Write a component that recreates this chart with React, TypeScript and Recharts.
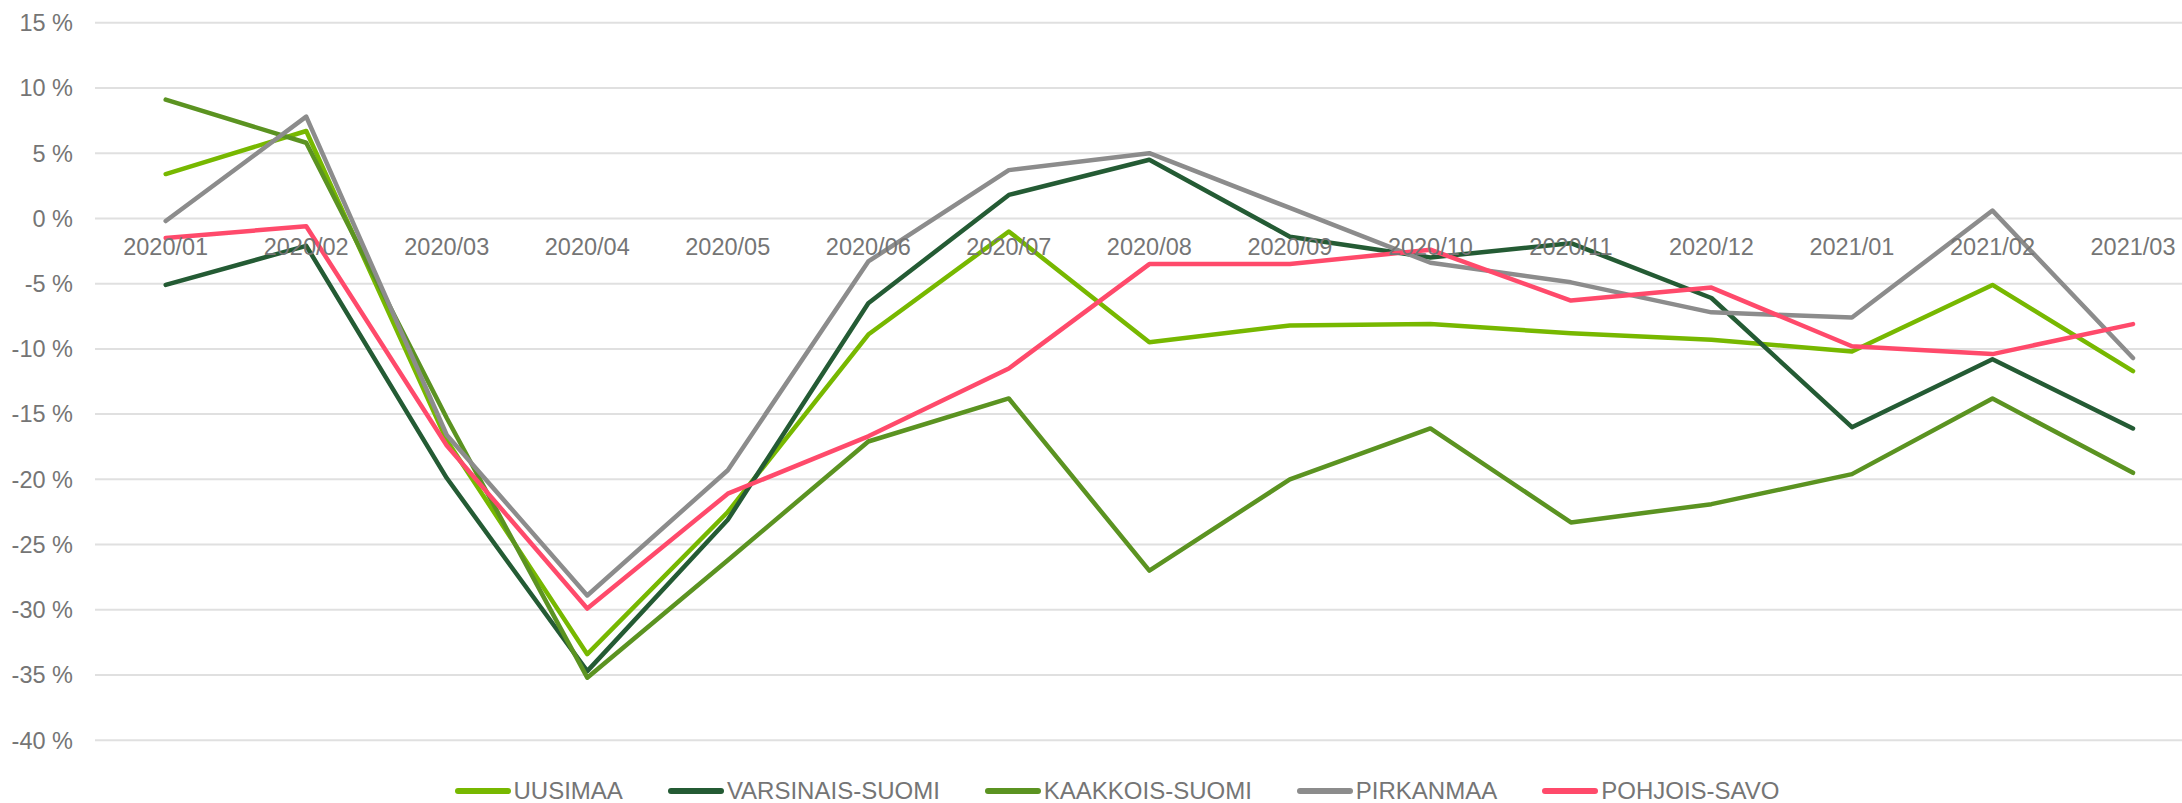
import React from 'react';
import { LineChart, Line, XAxis, YAxis, CartesianGrid, Legend } from 'recharts';

const months = [
  '2020/01', '2020/02', '2020/03', '2020/04', '2020/05', '2020/06', '2020/07', '2020/08',
  '2020/09', '2020/10', '2020/11', '2020/12', '2021/01', '2021/02', '2021/03',
];

const uusimaa = [3.4, 6.7, -17.0, -33.4, -22.5, -8.9, -1.0, -9.5, -8.2, -8.1, -8.8, -9.3, -10.2, -5.1, -11.7];
const varsinaisSuomi = [-5.1, -2.1, -19.9, -34.7, -23.1, -6.5, 1.8, 4.5, -1.4, -3.0, -1.9, -6.1, -16.0, -10.8, -16.1];
const kaakkoisSuomi = [9.1, 5.8, -15.3, -35.2, -26.2, -17.1, -13.8, -27.0, -20.0, -16.1, -23.3, -21.9, -19.6, -13.8, -19.5];
const pirkanmaa = [-0.2, 7.8, -16.6, -28.9, -19.3, -3.3, 3.7, 5.0, 0.8, -3.4, -4.9, -7.2, -7.6, 0.6, -10.7];
const pohjoisSavo = [-1.5, -0.6, -17.4, -29.9, -21.1, -16.7, -11.5, -3.5, -3.5, -2.4, -6.3, -5.3, -9.8, -10.4, -8.1];

const yTicks = [15, 10, 5, 0, -5, -10, -15, -20, -25, -30, -35, -40];

const series = [
  { key: 'uusimaa', name: 'UUSIMAA', color: '#77b800', values: uusimaa },
  { key: 'varsinais', name: 'VARSINAIS-SUOMI', color: '#245b34', values: varsinaisSuomi },
  { key: 'kaakkois', name: 'KAAKKOIS-SUOMI', color: '#5b9321', values: kaakkoisSuomi },
  { key: 'pirkanmaa', name: 'PIRKANMAA', color: '#8c8c8c', values: pirkanmaa },
  { key: 'pohjois', name: 'POHJOIS-SAVO', color: '#ff4a6b', values: pohjoisSavo },
];

const data = months.map((month, i) => {
  const row: Record<string, string | number> = { month };
  series.forEach((s) => {
    row[s.key] = s.values[i];
  });
  return row;
});

const WIDTH = 2182;
const HEIGHT = 803;
const PLOT_TOP = 22.7;
const PLOT_BOTTOM = 740.3;
const X_AXIS_HEIGHT = 1;
const Y_MAX = 15;
const Y_MIN = -40;
const FONT = '"Liberation Sans", Arial, sans-serif';
const TEXT = '#757575';

// category labels sit just under the 0 % line, like Excel's axis crossing
const zeroY = PLOT_TOP + ((Y_MAX - 0) / (Y_MAX - Y_MIN)) * (PLOT_BOTTOM - PLOT_TOP);

const MonthTick = (props: any) => (
  <text
    x={props.x}
    y={zeroY + 28}
    dy="0.355em"
    textAnchor="middle"
    fill={TEXT}
    fontSize={23.5}
    fontFamily={FONT}
  >
    {props.payload.value}
  </text>
);

const LegendContent = () => (
  <div
    style={{
      display: 'flex',
      justifyContent: 'center',
      alignItems: 'center',
      gap: 45,
      fontFamily: FONT,
      fontSize: 24,
      lineHeight: '28px',
      color: TEXT,
    }}
  >
    {series.map((s) => (
      <div key={s.key} style={{ display: 'flex', alignItems: 'center' }}>
        <span
          style={{
            display: 'inline-block',
            width: 56,
            height: 6,
            borderRadius: 3,
            background: s.color,
            marginRight: 3,
          }}
        />
        <span>{s.name}</span>
      </div>
    ))}
  </div>
);

export default function App() {
  return (
    <div style={{ position: 'absolute', left: 0, top: 0 }}>
      <LineChart
        width={WIDTH}
        height={HEIGHT}
        data={data}
        margin={{ top: PLOT_TOP, right: 0, bottom: HEIGHT - PLOT_BOTTOM - X_AXIS_HEIGHT, left: 0 }}
      >
        <CartesianGrid vertical={false} stroke="#e0e0e0" strokeWidth={2} />
        <XAxis
          dataKey="month"
          axisLine={false}
          tickLine={false}
          height={X_AXIS_HEIGHT}
          interval={0}
          padding={{ left: 70.7, right: 49 }}
          tick={MonthTick}
        />
        <YAxis
          width={95}
          domain={[Y_MIN, Y_MAX]}
          ticks={yTicks}
          interval={0}
          axisLine={false}
          tickLine={false}
          tickSize={6}
          tickMargin={16}
          tickFormatter={(v: number) => `${v} %`}
          tick={{ fill: TEXT, fontSize: 23.5, fontFamily: FONT }}
        />
        {series.map((s) => (
          <Line
            key={s.key}
            type="linear"
            dataKey={s.key}
            name={s.name}
            stroke={s.color}
            strokeWidth={4.5}
            strokeLinejoin="round"
            strokeLinecap="round"
            dot={false}
            activeDot={false}
            isAnimationActive={false}
          />
        ))}
        <Legend
          layout="horizontal"
          verticalAlign="middle"
          align="center"
          wrapperStyle={{ top: 777, left: 52, width: 2130 }}
          content={<LegendContent />}
        />
      </LineChart>
    </div>
  );
}
